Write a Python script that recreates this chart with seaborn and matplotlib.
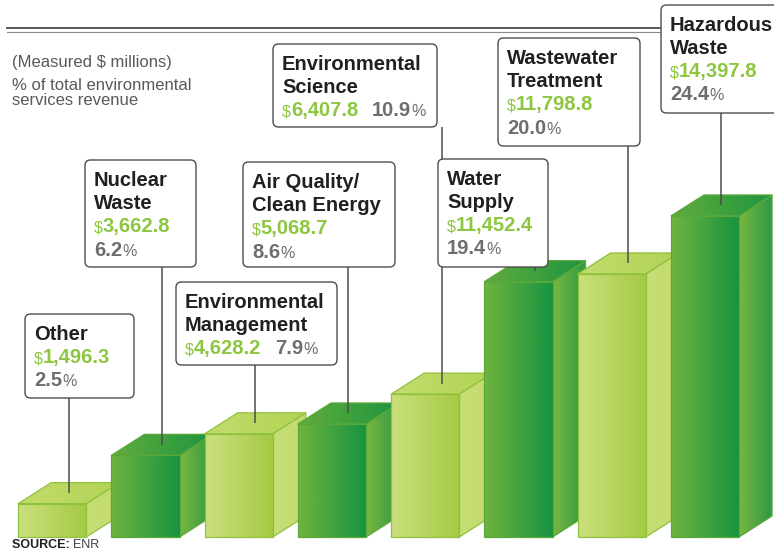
import numpy as np
import matplotlib
matplotlib.use("Agg")
import matplotlib.pyplot as plt
import seaborn as sns
from matplotlib.patches import Polygon, FancyBboxPatch
from matplotlib.lines import Line2D
from matplotlib.colors import to_rgb
from matplotlib.offsetbox import TextArea, HPacker, VPacker, AnnotationBbox

# data
categories = ["Other", "Nuclear Waste", "Environmental Management",
              "Air Quality/Clean Energy", "Environmental Science",
              "Water Supply", "Wastewater Treatment", "Hazardous Waste"]
name_lines = [["Other"], ["Nuclear", "Waste"], ["Environmental", "Management"],
              ["Air Quality/", "Clean Energy"], ["Environmental", "Science"],
              ["Water", "Supply"], ["Wastewater", "Treatment"], ["Hazardous", "Waste"]]
revenue = [1496.3, 3662.8, 4628.2, 5068.7, 6407.8, 11452.4, 11798.8, 14397.8]
share = [2.5, 6.2, 7.9, 8.6, 10.9, 19.4, 20.0, 24.4]
one_line_value = [False, False, True, False, True, False, False, False]

# label boxes: left, top, right, bottom in pixels from top-left
boxes = [(25, 314, 134, 398), (85, 160, 196, 267), (176, 282, 337, 365),
         (243, 162, 395, 267), (273, 44, 437, 127), (438, 159, 548, 267),
         (498, 38, 640, 146), (661, 5, 800, 113)]

W, H = 774, 552
FONT = "Liberation Sans"
GREEN_TXT = "#8dc63f"
GRAY_TXT = "#6d6e71"
DARK_TXT = "#231f20"
NOTE_TXT = "#58595b"

light = dict(front=("#cbe07e", "#a5ca43"), side=("#c8de78", "#c1da6c"),
             top=("#c3dc6c", "#b2d355"), edge="#8fc23c", base="#c0da6a")
dark = dict(front=("#6fb43f", "#16933f"), side=("#7ab740", "#2e9944"),
            top=("#62ac3c", "#1d9540"), edge="#5aa83a", base="#3fa13f")
styles = [light if i % 2 == 0 else dark for i in range(len(categories))]

fig = plt.figure(figsize=(W / 100, H / 100), dpi=100)
ax = fig.add_axes([0, 0, 1, 1])

sns.barplot(x=categories, y=revenue, hue=categories,
            palette=[s["base"] for s in styles], width=0.73,
            saturation=1, legend=False, ax=ax)
ax.set_xlim(-0.56, 7.74)
ax.set_ylim(-673, 24084)
ax.set_autoscale_on(False)
ax.set_aspect("auto")
ax.axis("off")

inv = ax.transData.inverted()
p0 = inv.transform((0, 0))
p1 = inv.transform((33, 21))
dx, dy = p1[0] - p0[0], p1[1] - p0[1]


def grad_image(verts, c0, c1, z, clip):
    xs = [v[0] for v in verts]
    ys = [v[1] for v in verts]
    g = np.linspace(0, 1, 256)[None, :, None]
    img = (1 - g) * np.array(to_rgb(c0)) + g * np.array(to_rgb(c1))
    im = ax.imshow(img, extent=(min(xs), max(xs), min(ys), max(ys)),
                   aspect="auto", origin="lower", zorder=z,
                   interpolation="bilinear")
    im.set_clip_path(clip)


def face(verts, colors, edge, z):
    poly = Polygon(verts, closed=True, fc="none", ec=edge, lw=0.9,
                   zorder=z + 0.05, joinstyle="round")
    ax.add_patch(poly)
    grad_image(verts, colors[0], colors[1], z, poly)


bars = sorted(ax.patches, key=lambda p: p.get_x())
for i, (bar, st) in enumerate(zip(bars, styles)):
    x0 = bar.get_x()
    x1 = x0 + bar.get_width()
    h = bar.get_height()
    z = 3 + i
    face([(x1, 0), (x1 + dx, dy), (x1 + dx, h + dy), (x1, h)], st["side"], st["edge"], z)
    face([(x0, h), (x0 + dx, h + dy), (x1 + dx, h + dy), (x1, h)], st["top"], st["edge"], z + 0.1)
    bar.set_facecolor("none")
    bar.set_edgecolor(st["edge"])
    bar.set_linewidth(0.9)
    bar.set_zorder(z + 0.3)
    grad_image([(x0, 0), (x1, h)], st["front"][0], st["front"][1], z + 0.2, bar)

# header rules and notes
ax.add_line(Line2D([7 / W, 1], [1 - 28 / H] * 2, transform=fig.transFigure,
                   color=NOTE_TXT, lw=1.4, clip_on=False, zorder=1))
ax.add_line(Line2D([7 / W, 1], [1 - 32 / H] * 2, transform=fig.transFigure,
                   color="#8a8a8a", lw=0.8, clip_on=False, zorder=1))
for txt, base in [("(Measured $ millions)", 67),
                  ("% of total environmental", 90),
                  ("services revenue", 105)]:
    fig.text(12 / W, 1 - base / H, txt, family=FONT, fontsize=12,
             color=NOTE_TXT, va="baseline")

src = HPacker(children=[
    TextArea("SOURCE: ", textprops=dict(family=FONT, fontsize=9, fontweight="bold", color=DARK_TXT)),
    TextArea("ENR", textprops=dict(family=FONT, fontsize=9, color="#414042"))],
    align="baseline", pad=0, sep=0)
ax.add_artist(AnnotationBbox(src, (12, 1), xycoords="figure pixels",
                             box_alignment=(0, 0), frameon=False, pad=0))


def ta(s, size, color, weight="bold"):
    return TextArea(s, textprops=dict(family=FONT, fontsize=size,
                                      fontweight=weight, color=color))


for i, bar in enumerate(bars):
    left, top, right, bottom = boxes[i]
    frame = FancyBboxPatch((left / 100, (H - bottom) / 100), (right - left) / 100,
                           (bottom - top) / 100,
                           boxstyle="round,pad=0,rounding_size=0.055",
                           transform=fig.dpi_scale_trans, fc="white",
                           ec="#4d4d4d", lw=1.0, zorder=25, clip_on=False)
    ax.add_patch(frame)

    money = HPacker(children=[ta("$", 11.5, GREEN_TXT, "normal"),
                              ta(f"{revenue[i]:,.1f}", 14.5, GREEN_TXT)],
                    align="baseline", pad=0, sep=0)
    pct = HPacker(children=[ta(f"{share[i]:.1f}", 14.5, GRAY_TXT),
                            ta("%", 11.5, GRAY_TXT, "normal")],
                  align="baseline", pad=0, sep=0)
    rows = [ta(line, 14.5, DARK_TXT) for line in name_lines[i]]
    if one_line_value[i]:
        rows.append(HPacker(children=[money, pct], align="baseline", pad=0, sep=10))
    else:
        rows += [money, pct]
    block = VPacker(children=rows, align="left", pad=0, sep=3)
    ab = AnnotationBbox(block, (left + 9, H - top - 11), xycoords="figure pixels",
                        box_alignment=(0, 1), frameon=False, pad=0, zorder=26)
    ax.add_artist(ab)

    cx = bar.get_x() + bar.get_width() / 2 + dx / 2
    ty = bar.get_height() + dy / 2
    by = inv.transform((0, H - bottom))[1]
    ax.plot([cx, cx], [ty, by], color="#4d4d4d", lw=1.1, zorder=20,
            solid_capstyle="butt")

fig.savefig("out.png", dpi=100)
